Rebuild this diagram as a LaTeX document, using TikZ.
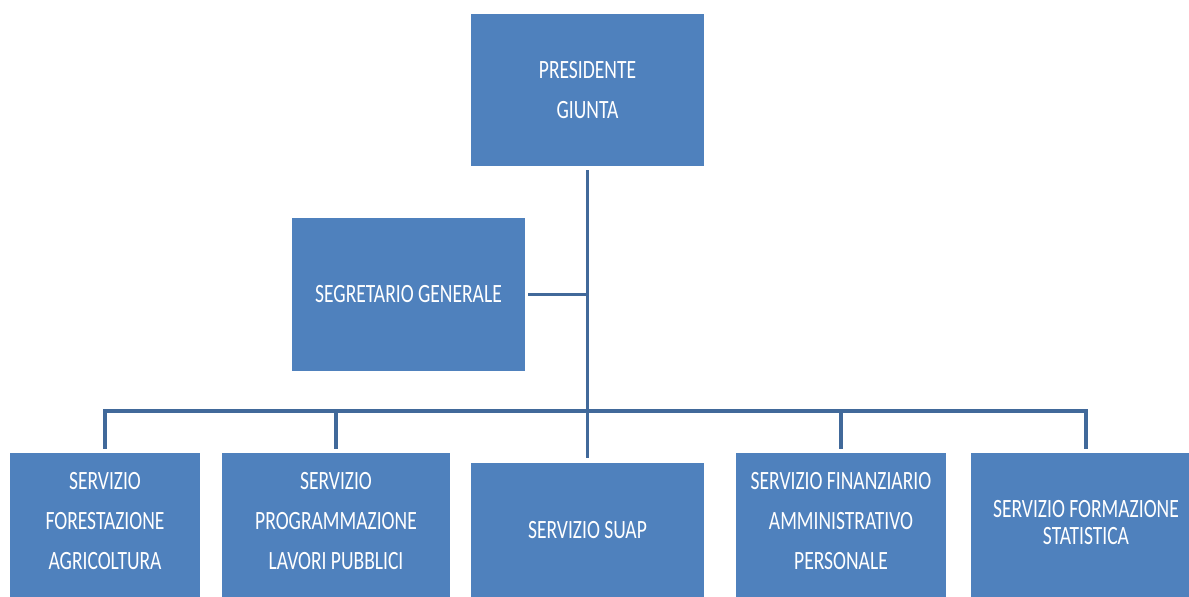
\documentclass[tikz,border=0pt]{standalone}
\usepackage{fontspec}
\newfontfamily\orgfont[FakeStretch=0.74]{Carlito}
\definecolor{boxblue}{HTML}{4F81BD}
\definecolor{lineblue}{HTML}{41699A}

\begin{document}
\begin{tikzpicture}[x=0.5pt, y=-0.5pt,
		ufficio/.style={fill=boxblue, text=white, inner sep=0pt, align=center, font=\orgfont\fontsize{13.2pt}{20pt}\selectfont},
		linea/.style={draw=lineblue, line width=1.75pt}]
	\useasboundingbox (0,0) rectangle (1189,596);
	\node[ufficio, minimum width=116.5pt, minimum height=76pt] (pres) at (587.5,90) {PRESIDENTE\\GIUNTA};
	\node[ufficio, minimum width=116.5pt, minimum height=76.5pt] (segr) at (408.5,294.5) {SEGRETARIO GENERALE};
	\node[ufficio, minimum width=95pt, minimum height=68pt] (forest) at (105,521) {SERVIZIO\\FORESTAZIONE\\AGRICOLTURA};
	\node[ufficio, minimum width=114pt, minimum height=68pt] (progr) at (336,521) {SERVIZIO\\PROGRAMMAZIONE\\LAVORI PUBBLICI};
	\node[ufficio, minimum width=116.5pt, minimum height=67pt] (suap) at (587.5,530) {SERVIZIO SUAP};
	\node[ufficio, minimum width=105pt, minimum height=68pt] (finanz) at (841,521) {SERVIZIO FINANZIARIO\\AMMINISTRATIVO\\PERSONALE};
	\node[ufficio, minimum width=115pt, minimum height=70pt, font=\orgfont\fontsize{13.2pt}{13.5pt}\selectfont] (formaz) at (1086,523) {SERVIZIO FORMAZIONE\\STATISTICA};
	\foreach \n in {forest,progr,finanz,formaz}
		\fill[boxblue] (\n.south west) rectangle ([yshift=-6pt]\n.south east);
	\coordinate (bus) at (587,411);
	\draw[linea, shorten <=2pt, shorten >=2.5pt] (pres.south) -- (pres.south |- suap.north);
	\draw[linea, shorten <=1.5pt] (segr.east) -- (segr.east -| pres.south);
	\draw[linea, shorten <=2pt, shorten >=2pt] (forest.north) -- (forest.north |- bus) -- (formaz.north |- bus) -- (formaz.north);
	\draw[linea, shorten >=2pt] (progr.north |- bus) -- (progr.north);
	\draw[linea, shorten >=2pt] (finanz.north |- bus) -- (finanz.north);
\end{tikzpicture}
\end{document}
